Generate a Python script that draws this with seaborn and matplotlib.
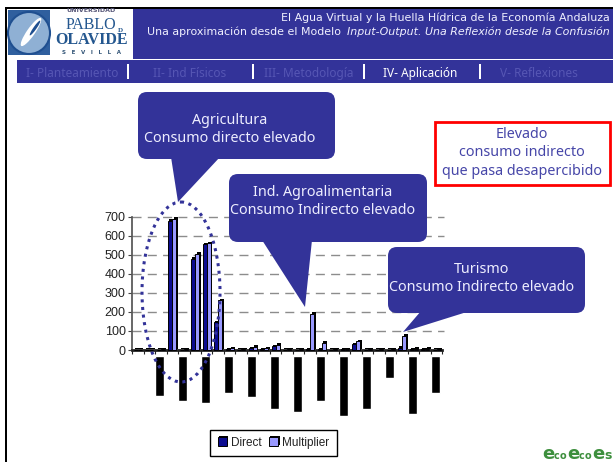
import matplotlib
matplotlib.use("Agg")
import matplotlib.pyplot as plt
import matplotlib.patches as mpatches
import matplotlib.patheffects as pe
import numpy as np
import pandas as pd
import seaborn as sns

# values, one per sector (27 sectors)
sectors = [str(i) for i in range(1, 28)]
direct = [1, 1, 2, 680, 2, 480, 555, 145, 5, 2, 10, 3, 20, 2, 2, 3, 5, 2, 3, 30, 2, 2, 2, 12, 3, 3, 2]
multiplier = [1, 2, 3, 690, 3, 505, 560, 260, 8, 3, 18, 8, 28, 3, 3, 190, 38, 3, 5, 45, 3, 3, 3, 75, 6, 6, 4]
# black bars below the axis, one every two sectors
lower_pos = [2, 4, 6, 8, 10, 12, 14, 16, 18, 20, 22, 24, 26]
lower_vals = [-242, -268, -279, -226, -247, -310, -326, -268, -347, -310, -147, -337, -226]
lower_top = -31
y_ticks = [0, 100, 200, 300, 400, 500, 600, 700]

BLUE = "#333399"
W, H = 613, 462

sns.set_theme(style="white")
plt.rcParams["font.family"] = ["Liberation Sans", "DejaVu Sans"]

fig = plt.figure(figsize=(W / 100, H / 100), dpi=100, facecolor="white")

# chart axes placed in pixels: x 132-442, y=700 at 216.7, y=-400 at 426
px_per_unit = (350 - 216.7) / 700
bottom_px = 350 + 400 * px_per_unit
ax = fig.add_axes([132 / W, 1 - bottom_px / H, (442.5 - 132) / W, (bottom_px - 216.7) / H])
ax.patch.set_alpha(0)

df = pd.DataFrame({"sector": sectors * 2,
                   "value": direct + multiplier,
                   "series": ["Direct"] * 27 + ["Multiplier"] * 27})
sns.barplot(data=df, x="sector", y="value", hue="series", ax=ax, width=0.72,
            palette={"Direct": "#0c0c90", "Multiplier": "#9999ff"},
            edgecolor="black", linewidth=0.7, saturation=1, zorder=3)
for bar in ax.patches:
    bar.set_path_effects([pe.SimplePatchShadow(offset=(1, 1), shadow_rgbFace="black", alpha=1), pe.Normal()])

ax.bar(np.array(lower_pos) - 0.1, np.array(lower_vals) - lower_top, width=0.78, bottom=lower_top,
       color="black", zorder=3)

ax.set_xlim(-0.5, 26.5)
ax.set_ylim(-400, 700)
ax.set_xlabel("")
ax.set_ylabel("")
ax.set_yticks(y_ticks)
ax.set_xticks(np.arange(-0.5, 27, 1))
ax.set_xticklabels([])
ax.tick_params(axis="x", bottom=True, length=3, width=0.8, color="#222222", pad=0)
ax.tick_params(axis="y", left=True, length=3, width=0.8, color="#444444", pad=1.5, labelsize=9, labelcolor="#222222")
for v in y_ticks[1:]:
    ax.plot([-0.5, 26.6], [v, v], color="#8c8c8c", lw=1, dashes=(6.5, 4.5), zorder=1, clip_on=False)
for s in ["top", "right"]:
    ax.spines[s].set_visible(False)
ax.spines["left"].set_bounds(0, 700)
ax.spines["left"].set_color("#555555")
ax.spines["bottom"].set_position(("data", 0))
ax.spines["bottom"].set_color("#222222")
ax.spines["bottom"].set_linewidth(2)

handles, labels = ax.get_legend_handles_labels()
leg = ax.legend(handles, labels, ncol=2, loc="center", bbox_to_anchor=(273.5 / W, 1 - 443 / H),
                bbox_transform=fig.transFigure, frameon=True, fancybox=False, framealpha=1,
                edgecolor="black", fontsize=8.5, handlelength=0.8, handleheight=0.8,
                columnspacing=0.6, handletextpad=0.35, borderpad=0.6, borderaxespad=0)
leg.get_frame().set_linewidth(1)
for t in leg.get_texts():
    t.set_color("#222222")

# slide furniture in pixel coordinates
deco = fig.add_axes([0, 0, 1, 1], zorder=5)
deco.set_xlim(0, W)
deco.set_ylim(H, 0)
deco.axis("off")
deco.patch.set_alpha(0)


def rect(x0, y0, x1, y1, color, **kw):
    deco.add_patch(mpatches.Rectangle((x0, y0), x1 - x0, y1 - y0, facecolor=color, edgecolor="none", **kw))


TXT = ["Noto Sans", "DejaVu Sans"]
HEAD = ["DejaVu Sans"]
rect(5, 7, W, 9, "black")
rect(5, 7, 7, H, "black")
rect(133, 9, W, 59, BLUE)
rect(17, 60, W, 83, BLUE)

deco.text(610, 18, "El Agua Virtual y la Huella Hídrica de la Economía Andaluza", ha="right", va="center",
          color="#f0f0ff", fontsize=7.9, family=HEAD)
deco.text(147, 32, "Una aproximación desde el Modelo", ha="left", va="center", color="#f0f0ff", fontsize=7.9,
          family=HEAD)
deco.text(610, 32, "Input-Output. Una Reflexión desde la Confusión", ha="right", va="center", color="#f0f0ff",
          fontsize=7.9, style="italic", family=HEAD)
rect(133, 59, W, 60, "white")

nav = [("I- Planteamiento", 26, "#5656b4"), ("II- Ind Físicos", 153, "#5656b4"), ("III- Metodología", 264, "#5656b4"),
       ("IV- Aplicación", 383, "white"), ("V- Reflexiones", 500, "#5656b4")]
for label, x, col in nav:
    deco.text(x, 73.5, label, ha="left", va="center", color=col, fontsize=8.5, family=TXT,
              fontweight="medium" if col == "white" else "normal")
for x in [128, 253, 364, 480]:
    rect(x - 0.8, 64, x + 0.8, 79, "white")

# logo
rect(8, 10, 50, 55, "#2f5f9e")
deco.add_patch(mpatches.Circle((29, 33), 21, facecolor="#8fb0d4", edgecolor="#1f4f90", lw=1.5))
deco.add_patch(mpatches.Ellipse((31, 32), 8, 34, angle=35, facecolor="white", edgecolor="none"))
deco.add_patch(mpatches.Ellipse((35, 28), 3, 18, angle=35, facecolor="#1f4f90", edgecolor="none"))
deco.text(91, 11, "UNIVERSIDAD", ha="center", va="center", fontsize=4.5, color="#555577", family="DejaVu Sans",
          fontweight="bold")
deco.text(91, 25, "PABLO", ha="center", va="center", fontsize=11.5, color="#24578f", family="Liberation Serif")
deco.text(120, 31, "D", ha="center", va="center", fontsize=5, color="#24578f", family="Liberation Serif",
          fontweight="bold")
deco.text(92, 40, "OLAVIDE", ha="center", va="center", fontsize=11.5, color="#24578f", family="Liberation Serif",
          fontweight="bold")
deco.text(92, 53, "S   E   V   I   L   L   A", ha="center", va="center", fontsize=4, color="#335577",
          family="DejaVu Sans", fontweight="bold")


def callout(x0, y0, x1, y1, tail, lines, text_y, text_x):
    deco.add_patch(mpatches.FancyBboxPatch((x0 + 9, y0 + 9), x1 - x0 - 18, y1 - y0 - 18,
                                           boxstyle="round,pad=9,rounding_size=9", facecolor=BLUE,
                                           edgecolor="none"))
    deco.add_patch(mpatches.Polygon(tail, closed=True, facecolor=BLUE, edgecolor="none"))
    for line, y in zip(lines, text_y):
        deco.text(text_x, y, line, ha="center", va="center", color="#eeeeff", fontsize=10.3, family=TXT)


callout(138, 92, 335, 159, [(171, 157), (178, 202), (220, 157)],
        ["Agricultura", "Consumo directo elevado"], [120.5, 138.5], 230)
callout(229, 174, 427, 242, [(262, 240), (305, 307), (312, 240)],
        ["Ind. Agroalimentaria", "Consumo Indirecto elevado"], [192.5, 210.5], 323)
callout(388, 247, 585, 313, [(421, 311), (403, 332), (470, 311)],
        ["Turismo", "Consumo Indirecto elevado"], [269.5, 287.5], 482)

deco.add_patch(mpatches.Ellipse((181, 292), 78, 180, facecolor="none", edgecolor=BLUE, lw=2.2, linestyle=(0, (1, 1.5))))

deco.add_patch(mpatches.Rectangle((435, 122), 175, 63, facecolor="white", edgecolor="#ff0000", lw=2))
for line, y in zip(["Elevado", "consumo indirecto", "que pasa desapercibido"], [134.5, 152.5, 171.5]):
    deco.text(522, y, line, ha="center", va="center", color="#4646a8", fontsize=10.3, family=TXT)

# ecoecoes mark
for s, x, size in [("e", 542, 13), ("c", 554, 7), ("o", 560, 7), ("e", 567, 13), ("c", 579, 7), ("o", 585, 7),
                   ("e", 592, 13), ("s", 604, 9)]:
    deco.text(x, 459, s, ha="left", va="baseline", color="#3d8f3d", fontsize=size, fontweight="bold",
              family="DejaVu Sans")

fig.savefig("out.png", dpi=100)
